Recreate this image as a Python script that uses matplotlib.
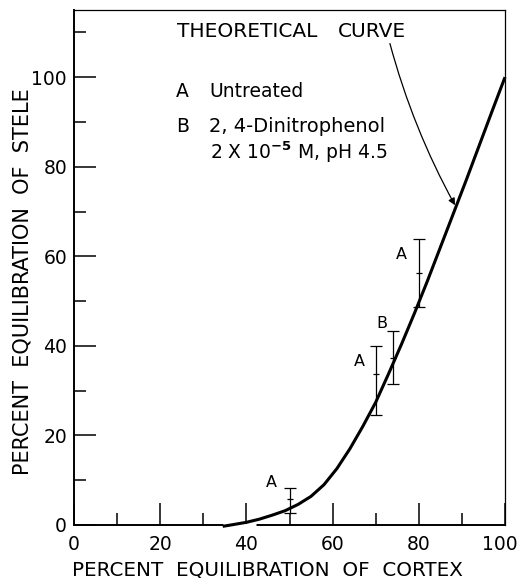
import matplotlib
matplotlib.use("Agg")
import matplotlib.pyplot as plt
from matplotlib.ticker import MultipleLocator
from matplotlib.transforms import ScaledTranslation

plt.rcParams['font.family'] = ['DejaVu Sans']

# Theoretical curve
curve_x = [34.5, 37, 40, 43, 46, 49, 52, 55, 58, 61, 64, 67, 70, 73, 76, 79, 82, 85, 88, 91, 94, 97, 100]
curve_y = [-0.3, 0.1, 0.6, 1.3, 2.2, 3.2, 4.6, 6.4, 9.0, 12.6, 17.0, 22.0, 27.4, 33.8, 40.4, 47.3, 54.5, 62.0, 69.5, 77.0, 84.7, 92.4, 100.0]

# Experimental points with error bars
point_x = [50, 70, 74, 80]
point_y = [5.7, 33.8, 37.3, 56.3]
point_low = [2.7, 24.6, 31.5, 48.6]
point_high = [8.3, 39.9, 43.3, 63.8]
point_labels = ['A', 'A', 'B', 'A']
label_x = [45.9, 66.1, 71.5, 75.9]
label_y = [8.5, 35.5, 43.9, 59.5]

x_ticks = [0, 20, 40, 60, 80, 100]
y_ticks = [0, 20, 40, 60, 80, 100]

fig = plt.figure(figsize=(5.2, 5.78), dpi=100)
ax = fig.add_axes([74/520, 1-525/578, (505-74)/520, (525-10)/578])
ax.set_xlim(0, 100)
ax.set_ylim(0, 115)

ax.plot(curve_x, curve_y, color='black', lw=2.2, zorder=4, clip_on=False,
        solid_capstyle='butt', solid_joinstyle='round')

yerr = [[c - l for c, l in zip(point_y, point_low)],
        [h - c for c, h in zip(point_y, point_high)]]
ax.errorbar(point_x, point_y, yerr=yerr, fmt='_', color='black', ecolor='black',
            elinewidth=0.9, capsize=4.2, capthick=0.9, markersize=5,
            markeredgewidth=0.9, zorder=5)

for lx, ly, t in zip(label_x, label_y, point_labels):
    ax.text(lx, ly, t, fontsize=11.5, ha='center', va='baseline')

# gap in bottom axis line beneath start of curve
ax.plot([34.5, 42.3], [0, 0], color='white', lw=2.5, zorder=3, clip_on=False,
        solid_capstyle='butt')

ax.text(23.8, 109.0, 'THEORETICAL', fontsize=14.5, ha='left', va='baseline')
ax.text(61.3, 109.0, 'CURVE', fontsize=14.5, ha='left', va='baseline')
ax.annotate('', xy=(88.4, 71.4), xytext=(73.3, 107.5),
            arrowprops=dict(arrowstyle='-|>', connectionstyle='arc3,rad=0.06',
                            lw=0.9, color='black', mutation_scale=10,
                            shrinkA=0, shrinkB=0))

ax.text(23.7, 95.6, 'A', fontsize=13.5, ha='left', va='baseline')
ax.text(31.4, 95.6, 'Untreated', fontsize=13.5, ha='left', va='baseline')
ax.text(23.7, 87.8, 'B', fontsize=13.5, ha='left', va='baseline')
ax.text(31.4, 87.8, '2, 4-Dinitrophenol', fontsize=14, ha='left', va='baseline')
ax.text(31.6, 81.8, r'2 X 10$^{\mathbf{-5}}$ M, pH 4.5', fontsize=13.5, ha='left', va='baseline')

ax.set_xticks(x_ticks)
ax.set_yticks(y_ticks)
ax.xaxis.set_minor_locator(MultipleLocator(10))
ax.yaxis.set_minor_locator(MultipleLocator(10))
ax.tick_params(which='major', direction='in', length=16, width=1.1, labelsize=13.5)
ax.tick_params(which='minor', direction='in', length=8.6, width=1.1)
ax.tick_params(axis='x', which='major', pad=7)
ax.tick_params(axis='y', which='major', pad=5)
ax.tick_params(top=False, right=False, which='both')

# last x tick label sits slightly left in the reference
fig.canvas.draw()
last = ax.get_xticklabels()[-1]
last.set_transform(last.get_transform() + ScaledTranslation(-5/100, 0, fig.dpi_scale_trans))

for s in ['left', 'bottom']:
    ax.spines[s].set_linewidth(1.4)
for s in ['top', 'right']:
    ax.spines[s].set_linewidth(0.9)

fig.text(267/520, 1-570/578, 'PERCENT  EQUILIBRATION  OF  CORTEX', fontsize=14.3,
         ha='center', va='center')
fig.text(23/520, 1-282/578, 'PERCENT  EQUILIBRATION  OF  STELE', fontsize=15,
         ha='center', va='center', rotation=90)

fig.savefig('out.png', dpi=100)
